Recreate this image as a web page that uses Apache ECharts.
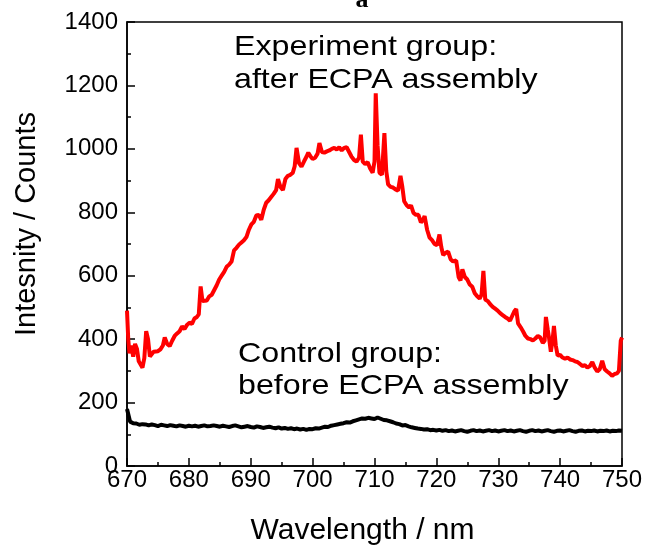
<!DOCTYPE html>
<html>
<head>
<meta charset="utf-8">
<script src="https://cdn.jsdelivr.net/npm/echarts@6/dist/echarts.min.js"></script>
<style>html,body{margin:0;padding:0;background:#fff}#c{width:646px;height:546px}</style>
</head>
<body>
<div id="c"></div>
<script>
// Experiment group (after ECPA assembly): [wavelength nm, counts]
const experimentWl = [670.0,670.2,670.4,670.7,671.0,671.3,671.6,671.9,672.2,672.5,672.8,673.1,673.4,673.7,674.0,674.3,674.6,675.0,675.4,675.8,676.1,676.5,676.9,677.3,677.7,678.1,678.5,678.9,679.3,679.7,680.1,680.5,680.9,681.3,681.6,681.9,682.2,682.5,682.9,683.3,683.7,684.1,684.5,684.9,685.3,685.7,686.1,686.5,686.9,687.3,687.7,688.1,688.5,688.9,689.3,689.7,690.1,690.5,690.9,691.3,691.7,692.1,692.5,692.9,693.3,693.7,694.1,694.4,694.8,695.2,695.6,696.0,696.4,696.8,697.1,697.4,697.8,698.2,698.6,699.0,699.3,699.7,700.0,700.4,700.8,701.1,701.5,701.9,702.3,702.7,703.1,703.5,703.9,704.3,704.7,705.1,705.5,705.9,706.3,706.7,707.1,707.5,707.8,708.1,708.5,708.9,709.3,709.7,710.0,710.2,710.5,710.8,711.2,711.6,711.9,712.2,712.6,713.0,713.4,713.8,714.2,714.5,714.8,715.2,715.6,715.9,716.3,716.7,717.1,717.5,717.8,718.1,718.5,718.9,719.3,719.7,720.1,720.5,720.8,721.1,721.5,721.9,722.3,722.7,723.2,723.6,723.9,724.2,724.6,725.0,725.4,725.8,726.2,726.6,727.0,727.3,727.6,727.9,728.3,728.7,729.1,729.5,729.9,730.3,730.7,731.1,731.5,731.9,732.2,732.6,732.9,733.2,733.6,734.0,734.4,734.8,735.2,735.6,736.0,736.4,736.8,737.2,737.5,737.7,738.0,738.2,738.5,738.8,739.0,739.3,739.6,740.0,740.4,740.8,741.2,741.6,742.0,742.4,742.8,743.2,743.6,744.0,744.4,744.8,745.2,745.6,746.0,746.4,746.8,747.2,747.6,748.0,748.4,748.8,749.2,749.5,749.8,750.0];
const experimentCounts = [490,400,355,380,345,385,370,330,320,310,340,425,400,345,345,360,355,362,368,380,405,385,378,395,410,418,425,440,432,445,452,448,465,470,478,566,520,514,522,535,540,555,570,588,600,612,628,635,645,680,688,698,705,712,722,745,762,770,790,792,776,808,830,838,848,858,870,905,880,870,905,915,918,925,945,1003,955,944,960,975,988,975,968,972,985,1018,990,988,992,995,1000,1003,998,1005,995,1003,1005,990,975,965,960,972,1045,960,952,958,938,925,960,1175,1010,925,918,1050,930,888,880,878,872,868,915,880,835,822,815,822,798,792,792,768,775,788,745,720,712,700,696,730,690,665,672,676,652,645,648,595,585,620,596,588,572,565,545,535,528,540,615,525,520,510,502,496,490,482,476,470,465,458,462,488,495,450,438,425,410,402,400,396,402,410,405,388,395,470,430,405,360,400,442,380,348,350,342,338,342,336,334,330,328,322,315,318,310,315,328,310,298,305,332,305,298,292,284,290,292,300,395,405];

// Control group (before ECPA assembly), wavelengths 670..750 nm every 0.5 nm
const controlWl = [];
for (let i = 0; i <= 160; i++) controlWl.push(670 + i * 0.5);
const controlCounts = [180,140,135,134,130,132,131,128,131,129,126,130,128,126,129,127,125,128,126,124,127,125,127,124,126,128,125,126,128,126,124,127,125,123,126,128,125,122,124,126,123,121,125,123,120,122,124,121,119,122,118,120,117,119,116,118,115,117,114,117,116,119,118,121,124,123,127,129,131,133,135,138,137,141,144,147,150,149,152,150,148,153,149,145,144,141,138,134,132,128,129,125,122,120,118,117,115,116,113,114,112,114,111,113,110,112,109,111,113,110,108,111,113,110,112,109,111,113,110,112,109,111,113,110,112,109,111,113,110,108,111,113,110,112,109,111,113,110,108,111,112,109,111,113,110,108,111,112,109,111,110,112,109,111,110,112,109,111,110,112,111];

const xTicks = [670,680,690,700,710,720,730,740,750];
const yTicks = [0,200,400,600,800,1000,1200,1400];

const annotExperiment = ['Experiment group:', 'after ECPA assembly'];
const annotControl = ['Control group:', 'before ECPA assembly'];

const FONT = '"Liberation Sans", Arial, sans-serif';
const zip = (a, b) => a.map((v, i) => [v, b[i]]);

const chart = echarts.init(document.getElementById('c'), null, {renderer: 'canvas'});
const annStyle = (t) => ({text: t, x: 0, y: 0, fill: '#000', font: '28px ' + FONT, align: 'left', verticalAlign: 'middle'});
chart.setOption({
  animation: false,
  backgroundColor: '#fff',
  grid: {left: 127, right: 24, top: 22, bottom: 80, containLabel: false, outerBoundsMode: 'none',
         show: true, borderColor: '#000', borderWidth: 1.5, backgroundColor: 'transparent'},
  xAxis: {
    type: 'value', min: xTicks[0], max: xTicks[xTicks.length - 1], interval: 10,
    name: 'Wavelength / nm', nameLocation: 'middle', nameGap: 50,
    nameTextStyle: {fontSize: 30, color: '#000', fontFamily: FONT, padding: [0, 24, 0, 0]},
    axisLine: {lineStyle: {color: '#000', width: 1.5}},
    axisTick: {inside: true, length: 8, lineStyle: {color: '#000', width: 1.5}},
    minorTick: {show: true, splitNumber: 2, length: 4, lineStyle: {color: '#000', width: 1.5}},
    splitLine: {show: false},
    axisLabel: {fontSize: 24, color: '#000', fontFamily: FONT, margin: 2, formatter: (v) => String(v)}
  },
  yAxis: {
    type: 'value', min: yTicks[0], max: yTicks[yTicks.length - 1], interval: 200,
    name: 'Intesnity / Counts', nameLocation: 'middle', nameGap: 86,
    nameTextStyle: {fontSize: 29, color: '#000', fontFamily: FONT, padding: [0, 0, 0, 40]},
    axisLine: {show: true, lineStyle: {color: '#000', width: 1.5}},
    axisTick: {show: true, inside: true, length: 8, lineStyle: {color: '#000', width: 1.5}},
    minorTick: {show: true, splitNumber: 2, length: 4, lineStyle: {color: '#000', width: 1.5}},
    splitLine: {show: false},
    axisLabel: {fontSize: 24, color: '#000', fontFamily: FONT, margin: 9, formatter: (v) => String(v)}
  },
  series: [
    {type: 'line', name: 'Experiment group', data: zip(experimentWl, experimentCounts), showSymbol: false, symbol: 'none',
     lineStyle: {color: '#ff0000', width: 4}, itemStyle: {color: '#ff0000'}, clip: true},
    {type: 'line', name: 'Control group', data: zip(controlWl, controlCounts), showSymbol: false, symbol: 'none',
     lineStyle: {color: '#000', width: 4}, itemStyle: {color: '#000'}, clip: true}
  ],
  graphic: [
    {type: 'text', x: 362, y: 13, style: {text: 'a', fill: '#000', font: 'bold 26px "Liberation Serif", "Times New Roman", serif', align: 'center', verticalAlign: 'bottom'}},
    {type: 'text', x: 234, y: 47, scaleX: 1.15, style: annStyle(annotExperiment[0])},
    {type: 'text', x: 234, y: 80, scaleX: 1.15, style: annStyle(annotExperiment[1])},
    {type: 'text', x: 238, y: 354, scaleX: 1.15, style: annStyle(annotControl[0])},
    {type: 'text', x: 238, y: 386, scaleX: 1.15, style: annStyle(annotControl[1])}
  ]
});
</script>
</body>
</html>
